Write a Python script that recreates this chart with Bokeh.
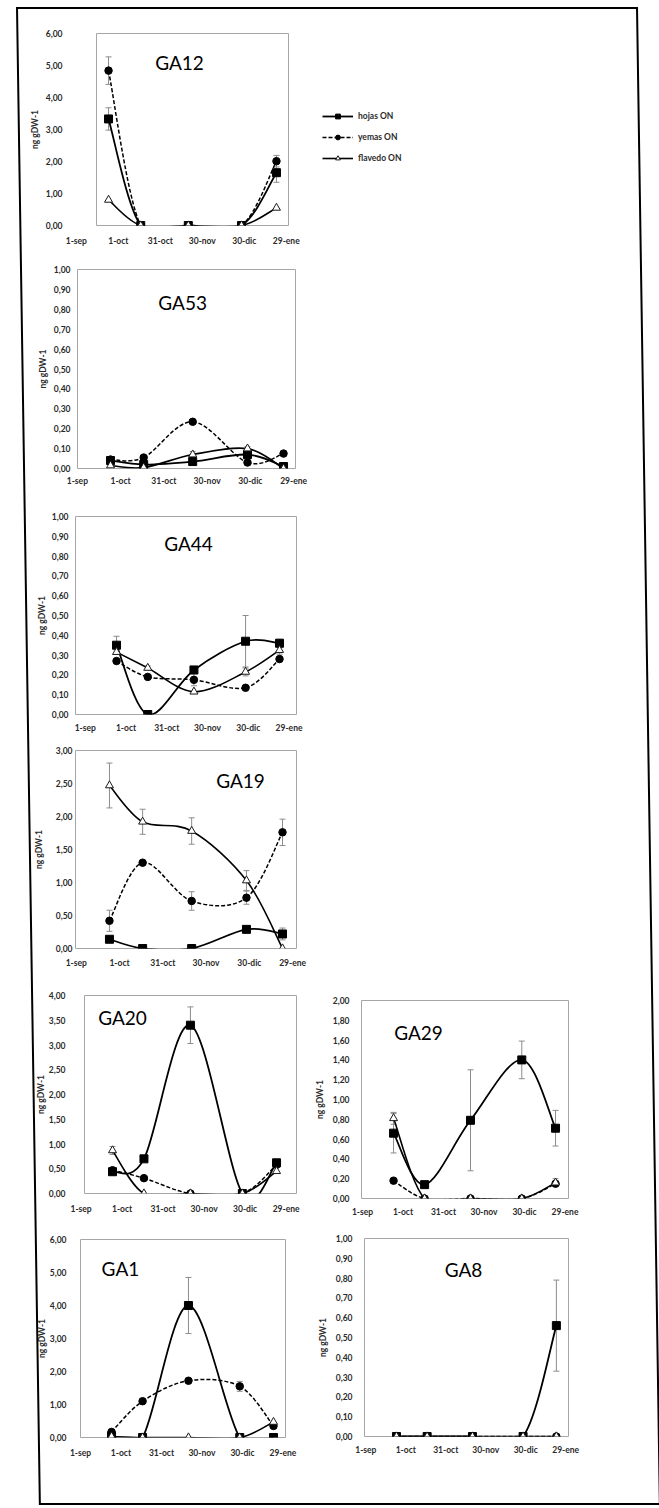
from bokeh.plotting import figure
from bokeh.models import (ColumnDataSource, Range1d, FixedTicker, LabelSet, Label,
                          Whisker, TeeHead, Legend, LegendItem, Div)
from bokeh.embed import file_html
from bokeh.resources import INLINE
from bokeh.core.properties import value

# ---------------- data ----------------
date_labels = ["1-sep", "1-oct", "31-oct", "30-nov", "30-dic", "29-ene"]
date_days = [0, 30, 60, 90, 120, 150]          # days after 1-sep
sample_days = [23, 46, 80, 118, 143]           # sampling dates (days after 1-sep)
series_names = ["hojas ON", "yemas ON", "flavedo ON"]

ga12_hojas = [3.33, 0.0, 0.0, 0.0, 1.65]
ga12_hojas_err = [0.35, 0, 0, 0, 0.30]
ga12_yemas = [4.84, 0.0, 0.0, 0.0, 2.01]
ga12_yemas_err = [0.43, 0, 0, 0, 0.18]
ga12_flavedo = [0.80, 0.0, 0.0, 0.0, 0.55]
ga12_flavedo_err = [0, 0, 0, 0, 0]

ga53_hojas = [0.04, 0.02, 0.035, 0.07, 0.01]
ga53_hojas_err = [0, 0, 0, 0, 0]
ga53_yemas = [0.045, 0.055, 0.235, 0.03, 0.075]
ga53_yemas_err = [0, 0, 0, 0, 0]
ga53_flavedo = [0.015, 0.005, 0.07, 0.10, 0.0]
ga53_flavedo_err = [0, 0, 0.015, 0.01, 0]

ga44_hojas = [0.35, 0.0, 0.225, 0.37, 0.36]
ga44_hojas_err = [0.045, 0, 0, 0.13, 0.02]
ga44_yemas = [0.27, 0.19, 0.175, 0.135, 0.28]
ga44_yemas_err = [0, 0, 0.03, 0, 0]
ga44_flavedo = [0.315, 0.235, 0.115, 0.215, 0.325]
ga44_flavedo_err = [0, 0.01, 0, 0.02, 0.02]

ga19_hojas = [0.14, 0.0, 0.0, 0.29, 0.22]
ga19_hojas_err = [0, 0, 0, 0, 0.09]
ga19_yemas = [0.42, 1.30, 0.72, 0.77, 1.76]
ga19_yemas_err = [0.16, 0, 0.14, 0.10, 0.20]
ga19_flavedo = [2.47, 1.92, 1.78, 1.03, 0.0]
ga19_flavedo_err = [0.34, 0.19, 0.20, 0.15, 0]

ga20_hojas = [0.44, 0.70, 3.40, 0.0, 0.62]
ga20_hojas_err = [0, 0, 0.37, 0, 0.06]
ga20_yemas = [0.47, 0.31, 0.0, 0.0, 0.58]
ga20_yemas_err = [0, 0, 0, 0, 0]
ga20_flavedo = [0.87, 0.0, 0.0, 0.0, 0.45]
ga20_flavedo_err = [0.08, 0, 0, 0, 0]

ga29_hojas = [0.66, 0.14, 0.79, 1.40, 0.71]
ga29_hojas_err = [0.20, 0, 0.51, 0.19, 0.18]
ga29_yemas = [0.18, 0.0, 0.0, 0.0, 0.15]
ga29_yemas_err = [0, 0, 0, 0, 0]
ga29_flavedo = [0.81, 0.0, 0.0, 0.0, 0.16]
ga29_flavedo_err = [0.06, 0, 0, 0, 0.04]

ga1_hojas = [0.05, 0.0, 4.00, 0.0, 0.0]
ga1_hojas_err = [0, 0, 0.85, 0, 0]
ga1_yemas = [0.17, 1.10, 1.72, 1.55, 0.35]
ga1_yemas_err = [0, 0, 0, 0.15, 0]
ga1_flavedo = [0.03, 0.0, 0.0, 0.0, 0.47]
ga1_flavedo_err = [0, 0, 0, 0, 0]

ga8_hojas = [0.0, 0.0, 0.0, 0.0, 0.56]
ga8_hojas_err = [0, 0, 0, 0, 0.23]
ga8_yemas = [0.0, 0.0, 0.0, 0.0, 0.0]
ga8_yemas_err = [0, 0, 0, 0, 0]
ga8_flavedo = [0.0, 0.0, 0.0, 0.0, 0.0]
ga8_flavedo_err = [0, 0, 0, 0, 0]

# ---------------- layout / style config ----------------
FONT = "Lato"
TICK_COLOR = "#2b2b2b"
TICK_SIZE = "8.5px"

# x0,y0: page position of each figure; left/top/right/bottom: borders; fw/fh: frame size
panels = {
    "GA12": dict(data=(ga12_hojas, ga12_hojas_err, ga12_yemas, ga12_yemas_err, ga12_flavedo, ga12_flavedo_err),
                 ymax=6, ystep=1.0, x0=0, y0=0, left=96, fw=192, right=371, top=33, fh=192, bottom=25,
                 xr=(14.4, 151.6), tpos=(73.7, 5.09), ts=34, als=3, xoff=15),
    "GA53": dict(data=(ga53_hojas, ga53_hojas_err, ga53_yemas, ga53_yemas_err, ga53_flavedo, ga53_flavedo_err),
                 ymax=1, ystep=0.1, x0=0, y0=250, left=77, fw=218, right=364, top=19, fh=199, bottom=27,
                 xr=(0.1, 151.3), tpos=(73, 0.834), ts=7, als=3, xoff=12),
    "GA44": dict(data=(ga44_hojas, ga44_hojas_err, ga44_yemas, ga44_yemas_err, ga44_flavedo, ga44_flavedo_err),
                 ymax=1, ystep=0.1, x0=0, y0=495, left=75, fw=221, right=363, top=21, fh=198, bottom=21,
                 xr=(-7.2, 155.5), tpos=(76, 0.864), ts=7, als=2, xoff=13),
    "GA19": dict(data=(ga19_hojas, ga19_hojas_err, ga19_yemas, ga19_yemas_err, ga19_flavedo, ga19_flavedo_err),
                 ymax=3, ystep=0.5, x0=0, y0=735, left=75, fw=221, right=363, top=15, fh=198, bottom=27,
                 xr=(-0.55, 152.7), tpos=(113.9, 2.545), ts=3, als=9, xoff=14),
    "GA20": dict(data=(ga20_hojas, ga20_hojas_err, ga20_yemas, ga20_yemas_err, ga20_flavedo, ga20_flavedo_err),
                 ymax=4, ystep=0.5, x0=0, y0=975, left=84, fw=212, right=4, top=20, fh=198, bottom=32,
                 xr=(2.5, 157.6), tpos=(30.3, 3.56), ts=19, als=0, xoff=15),
    "GA29": dict(data=(ga29_hojas, ga29_hojas_err, ga29_yemas, ga29_yemas_err, ga29_flavedo, ga29_flavedo_err),
                 ymax=2, ystep=0.2, x0=300, y0=975, left=61, fw=207, right=91, top=25, fh=198, bottom=27,
                 xr=(-0.74, 152.6), tpos=(41.5, 1.68), ts=12, als=5, xoff=13),
    "GA1": dict(data=(ga1_hojas, ga1_hojas_err, ga1_yemas, ga1_yemas_err, ga1_flavedo, ga1_flavedo_err),
                ymax=6, ystep=1.0, x0=0, y0=1225, left=80, fw=205, right=15, top=14, fh=198, bottom=71,
                xr=(0.0, 151.9), tpos=(29.6, 5.12), ts=14, als=0, xoff=15),
    "GA8": dict(data=(ga8_hojas, ga8_hojas_err, ga8_yemas, ga8_yemas_err, ga8_flavedo, ga8_flavedo_err),
                ymax=1, ystep=0.1, x0=300, y0=1225, left=64, fw=204, right=91, top=13, fh=198, bottom=72,
                xr=(-1.0, 152.1), tpos=(73.3, 0.843), ts=12, als=5, xoff=13),
}

styles = [
    dict(marker="square", size=8, fill="#000000", line="#000000", dash="solid", lw=1.8),
    dict(marker="circle", size=7.5, fill="#000000", line="#000000", dash="4 2", lw=1.5),
    dict(marker="triangle", size=8, fill="#ffffff", line="#1a1a1a", dash="solid", lw=1.6),
]


def place(x, y):
    return {"position": "absolute", "left": f"{x}px", "top": f"{y}px"}


def smooth_segments(xs, ys):
    """Bezier control points (Excel-like smoothed line) for consecutive points."""
    n = len(xs)
    seg = dict(x0=[], y0=[], x1=[], y1=[], cx0=[], cy0=[], cx1=[], cy1=[])
    for i in range(n - 1):
        i0, i3 = max(i - 1, 0), min(i + 2, n - 1)
        seg["x0"].append(xs[i]); seg["y0"].append(ys[i])
        seg["x1"].append(xs[i + 1]); seg["y1"].append(ys[i + 1])
        seg["cx0"].append(xs[i] + (xs[i + 1] - xs[i0]) / 6.0)
        seg["cy0"].append(ys[i] + (ys[i + 1] - ys[i0]) / 6.0)
        seg["cx1"].append(xs[i + 1] - (xs[i3] - xs[i]) / 6.0)
        seg["cy1"].append(ys[i + 1] - (ys[i3] - ys[i]) / 6.0)
    return seg


def make_panel(name, with_legend=False):
    cfg = panels[name]
    ymax, ystep = cfg["ymax"], cfg["ystep"]
    p = figure(frame_width=cfg["fw"], frame_height=cfg["fh"],
               min_border_left=cfg["left"], min_border_right=cfg["right"],
               min_border_top=cfg["top"], min_border_bottom=cfg["bottom"],
               x_range=Range1d(*cfg["xr"]), y_range=Range1d(0, ymax),
               x_axis_location=None, y_axis_location="left",
               toolbar_location=None, output_backend="svg", tools="",
               styles=place(cfg["x0"], cfg["y0"]))
    p.grid.visible = False
    p.outline_line_color = "#a6a6a6"
    p.outline_line_width = 1
    p.background_fill_color = "white"
    p.border_fill_alpha = 0

    nt = int(round(ymax / ystep))
    ticks = [round(k * ystep, 2) for k in range(nt + 1)]
    ax = p.yaxis[0]
    ax.ticker = FixedTicker(ticks=ticks, minor_ticks=[])
    ax.major_label_overrides = {t: f"{t:.2f}".replace(".", ",") for t in ticks}
    ax.axis_line_color = None
    ax.major_tick_line_color = None
    ax.minor_tick_line_color = None
    ax.major_tick_out = 0
    ax.major_tick_in = 0
    ax.major_label_standoff = cfg["ts"]
    ax.major_label_text_font = FONT
    ax.major_label_text_font_size = TICK_SIZE
    ax.major_label_text_font_style = "bold"
    ax.major_label_text_color = TICK_COLOR
    ax.axis_label = "ng gDW-1"
    ax.axis_label_text_font = FONT
    ax.axis_label_text_font_size = TICK_SIZE
    ax.axis_label_text_font_style = "bold"
    ax.axis_label_text_color = TICK_COLOR
    ax.axis_label_standoff = cfg["als"]

    h, he, y, ye, f, fe = cfg["data"]
    legend_items = []
    for vals, errs, st, nm in zip((h, y, f), (he, ye, fe), styles, series_names):
        bx = [d for d, e in zip(sample_days, errs) if e > 0]
        if bx:
            up = [v + e for v, e in zip(vals, errs) if e > 0]
            lo = [v - e for v, e in zip(vals, errs) if e > 0]
            wsrc = ColumnDataSource(dict(base=bx, upper=up, lower=lo))
            w = Whisker(source=wsrc, base="base", upper="upper", lower="lower",
                        dimension="height", line_color="#8c8c8c", line_width=1,
                        upper_head=TeeHead(size=6, line_color="#8c8c8c", line_width=1),
                        lower_head=TeeHead(size=6, line_color="#8c8c8c", line_width=1),
                        level="underlay")
            p.add_layout(w)
        seg = ColumnDataSource(smooth_segments(sample_days, vals))
        p.bezier(x0="x0", y0="y0", x1="x1", y1="y1", cx0="cx0", cy0="cy0",
                 cx1="cx1", cy1="cy1", source=seg, line_color="#000000",
                 line_width=st["lw"], line_dash=st["dash"])
        sc = p.scatter(sample_days, vals, marker=st["marker"], size=st["size"],
                       fill_color=st["fill"], line_color=st["line"], line_width=1)
        if with_legend:
            lr = p.line(sample_days, vals, line_color="#000000", line_width=st["lw"],
                        line_dash=st["dash"], visible=False)
            legend_items.append(LegendItem(label=nm, renderers=[lr, sc]))

    tx, ty = cfg["tpos"]
    p.add_layout(Label(x=tx, y=ty, text=name, text_font=FONT, text_font_size="19px",
                       text_color="#000000", text_align="center", text_baseline="middle"))

    if with_legend:
        leg = Legend(items=legend_items, location=(34, 61), orientation="vertical",
                     border_line_color=None, background_fill_alpha=0, padding=0, margin=0,
                     spacing=9, glyph_width=31, glyph_height=12, label_height=12,
                     label_standoff=5, label_text_font=FONT, label_text_font_size=TICK_SIZE,
                     label_text_font_style="bold", label_text_color=TICK_COLOR)
        p.add_layout(leg, "right")

    # date text row under the plot, on the same day scale as the chart
    LBL_H = 16
    a, b = cfg["xr"]
    s = cfg["fw"] / (b - a)
    total_w = cfg["left"] + cfg["fw"] + cfg["right"]
    strip_top = cfg["y0"] + cfg["top"] + cfg["fh"] + cfg["xoff"] - LBL_H // 2
    strip = figure(frame_width=total_w, frame_height=LBL_H,
                   min_border_left=0, min_border_right=0, min_border_top=0, min_border_bottom=0,
                   x_range=Range1d(a - cfg["left"] / s, b + cfg["right"] / s),
                   y_range=Range1d(0, 1), x_axis_location=None, y_axis_location=None,
                   toolbar_location=None, output_backend="svg", tools="",
                   styles=place(cfg["x0"], strip_top))
    strip.grid.visible = False
    strip.outline_line_color = None
    strip.border_fill_alpha = 0
    strip.background_fill_alpha = 0
    lsrc = ColumnDataSource(dict(x=date_days, y=[0.5] * len(date_days), t=date_labels))
    strip.add_layout(LabelSet(x="x", y="y", text="t", source=lsrc,
                              text_align="center", text_baseline="middle",
                              text_font=value(FONT), text_font_size=value(TICK_SIZE),
                              text_font_style=value("bold"),
                              text_color=value(TICK_COLOR)))
    return [p, strip]


roots = []
roots += make_panel("GA12", with_legend=True)
for nm in ["GA53", "GA44", "GA19", "GA20", "GA29", "GA1", "GA8"]:
    roots += make_panel(nm)

border = Div(text="", width=622, height=1498,
             styles={"position": "absolute", "left": "11px", "top": "2px",
                     "border": "2px solid #000", "box-sizing": "border-box",
                     "transform": "skewX(0.875deg)", "transform-origin": "0 0",
                     "pointer-events": "none"})
roots.append(border)

open("out.html", "w").write(file_html(roots, INLINE))
